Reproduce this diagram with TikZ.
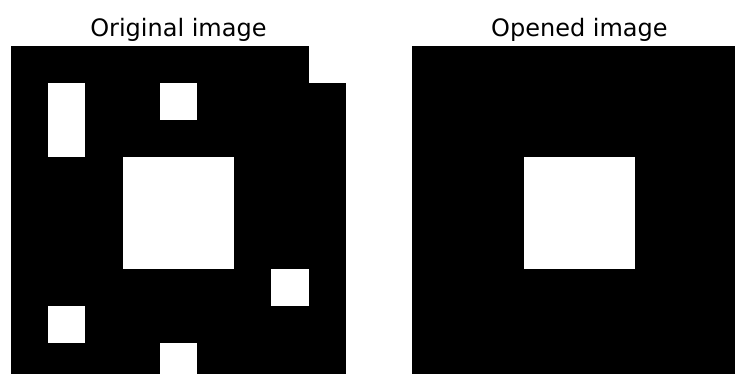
\documentclass[tikz,border=0pt]{standalone}
\usepackage{fontspec}
\setmainfont{DejaVu Sans}
\begin{document}
\begin{tikzpicture}[x=1pt,y=-1pt,
  title/.style={anchor=base,inner sep=0pt,font=\fontsize{24}{28}\selectfont},
  hole/.style={fill=white}]
  \def\cell{37.2}
  \useasboundingbox (0,0) rectangle (735,374);
  \clip (0,0) rectangle (735,374);
  % original image
  \node[title] (origtitle) at (178.4,36.7) {Original image};
  \fill (11,45.7) rectangle ++({9*\cell},{9*\cell});
  \foreach \c/\r/\w/\h in {8/0/1/1,1/1/1/2,4/1/1/1,3/3/3/3,7/6/1/1,1/7/1/1,4/8/1/1}
    \fill[hole] ({11+\c*\cell},{45.7+\r*\cell}) rectangle ++({\w*\cell},{\h*\cell});
  % opened image
  \node[title] (opentitle) at (579.4,36.7) {Opened image};
  \fill (412,45.7) rectangle ++({9*\cell},{9*\cell});
  \fill[hole] ({412+3*\cell},{45.7+3*\cell}) rectangle ++({3*\cell},{3*\cell});
\end{tikzpicture}
\end{document}
